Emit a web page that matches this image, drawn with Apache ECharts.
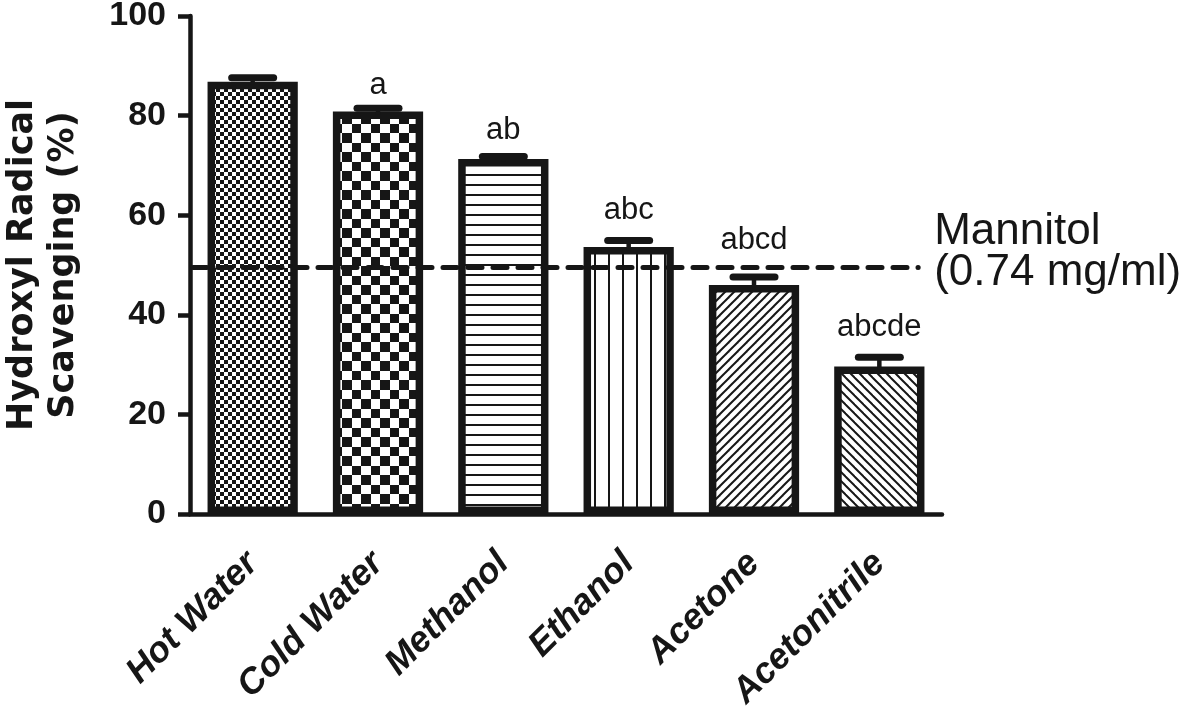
<!DOCTYPE html>
<html><head><meta charset="utf-8">
<script src="https://cdn.jsdelivr.net/npm/echarts@6/dist/echarts.min.js"></script>
<style>html,body{margin:0;padding:0;background:#fff}#c{width:1200px;height:717px}</style>
</head><body><div id="c"></div>
<script>
// ---- data ----
const categories = ['Hot Water', 'Cold Water', 'Methanol', 'Ethanol', 'Acetone', 'Acetonitrile'];
const means = [86.8, 80.8, 71.3, 53.6, 46.0, 29.6];
const errors = [0.8, 0.7, 0.5, 1.3, 1.6, 1.9];
const letters = ['', 'a', 'ab', 'abc', 'abcd', 'abcde'];
const letterBaseline = [null, 83.9, 74.9, 58.7, 52.7, 35.3];
const mannitolValue = 49.5;
const mannitolLabel = 'Mannitol\n(0.74 mg/ml)';
const yAxisName = 'Hydroxyl Radical\nScavenging (%)';
const yMin = 0, yMax = 100, yStep = 20;

const INK = '#161616';
function tile(w, h, draw) {
  const c = document.createElement('canvas');
  c.width = w; c.height = h;
  const g = c.getContext('2d');
  g.fillStyle = '#fff'; g.fillRect(0, 0, w, h);
  g.fillStyle = INK; g.strokeStyle = INK;
  draw(g, w, h);
  return c;
}
function diag(p, lw, dir) {
  return tile(p, p, (g) => {
    g.lineWidth = lw;
    for (let k = -1; k <= 1; k++) {
      g.beginPath();
      if (dir > 0) { g.moveTo(k * p - 1, p + 1); g.lineTo(k * p + p + 1, -1); }
      else { g.moveTo(k * p - 1, -1); g.lineTo(k * p + p + 1, p + 1); }
      g.stroke();
    }
  });
}
const patterns = [
  tile(8, 8, (g) => { g.fillRect(0, 0, 4, 4); g.fillRect(4, 4, 4, 4); }),
  tile(19, 19, (g) => { g.fillRect(0, 0, 10, 10); g.fillRect(10, 10, 9, 9); }),
  tile(10, 10, (g) => { g.fillRect(0, 4, 10, 2); }),
  tile(14, 14, (g) => { g.fillRect(6, 0, 2, 14); }),
  diag(9, 2, 1),
  diag(9, 2, -1)
];

const chart = echarts.init(document.getElementById('c'), null, { renderer: 'canvas' });
const FONT = '"Liberation Sans", Arial, sans-serif';

chart.setOption({
  animation: false,
  backgroundColor: '#fff',
  grid: { left: 190, right: 258, top: 16, bottom: 203, outerBoundsMode: 'none', containLabel: false },
  xAxis: {
    type: 'category',
    data: categories,
    axisLine: { lineStyle: { color: INK, width: 4.5 } },
    axisTick: { alignWithLabel: true, length: 14, lineStyle: { color: INK, width: 4 } },
    axisLabel: {
      interval: 0, rotate: 45, margin: 44,
      color: INK, fontFamily: FONT, fontSize: 36, fontWeight: 'bold', fontStyle: 'italic'
    },
    splitLine: { show: false }
  },
  yAxis: {
    type: 'value', min: yMin, max: yMax, interval: yStep,
    name: yAxisName, nameLocation: 'middle', nameGap: 106,
    nameTextStyle: { color: INK, fontFamily: '"DejaVu Sans", sans-serif', fontSize: 35, fontWeight: 'bold', lineHeight: 41 },
    axisLine: { show: true, lineStyle: { color: INK, width: 4.5 } },
    axisTick: { show: true, inside: false, length: 12, lineStyle: { color: INK, width: 4.5 } },
    axisLabel: { color: INK, fontFamily: FONT, fontSize: 34, fontWeight: 'bold', margin: 24 },
    splitLine: { show: false }
  },
  series: [
    {
      type: 'bar',
      barWidth: '72%',
      data: means.map((v, i) => ({
        value: v,
        itemStyle: { color: { image: patterns[i], repeat: 'repeat' }, borderColor: INK, borderWidth: 7.5 }
      })),
      emphasis: { disabled: true },
      z: 2
    },
    {
      type: 'custom',
      z: 5,
      data: means.map((v, i) => [i, v, errors[i]]),
      renderItem(params, api) {
        const i = api.value(0), v = api.value(1), e = api.value(2);
        const base = api.coord([i, v]);
        const top = api.coord([i, v + e]);
        const children = [
          { type: 'line', shape: { x1: base[0], y1: base[1] + 3, x2: top[0], y2: top[1] }, style: { stroke: INK, lineWidth: 4.5 } },
          { type: 'line', shape: { x1: top[0] - 21, y1: top[1], x2: top[0] + 21, y2: top[1] }, style: { stroke: INK, lineWidth: 7, lineCap: 'round' } }
        ];
        if (letters[i]) {
          const ly = api.coord([i, letterBaseline[i]])[1] - 11;
          children.push({ type: 'text', x: top[0], y: ly, style: { text: letters[i], fill: INK, font: '31px ' + FONT, align: 'center', verticalAlign: 'middle' } });
        }
        return { type: 'group', children };
      }
    },
    {
      type: 'custom',
      z: 6,
      data: [[0, mannitolValue]],
      renderItem(params, api) {
        const y = api.coord([0, api.value(1)])[1];
        const cs = params.coordSys;
        const band = api.size([1, 0])[0];
        const xEnd = api.coord([categories.length - 1, api.value(1)])[0] + band * 0.31;
        return {
          type: 'group', children: [
            { type: 'line', shape: { x1: cs.x + 3, y1: y, x2: xEnd, y2: y }, style: { stroke: INK, lineWidth: 5, lineDash: [14, 11], lineCap: 'round' } },
            { type: 'text', x: xEnd + 16, y: y - 15, style: { text: mannitolLabel, fill: INK, font: '44px ' + FONT, align: 'left', verticalAlign: 'middle', lineHeight: 41 } }
          ]
        };
      }
    }
  ]
});
</script>
</body></html>
